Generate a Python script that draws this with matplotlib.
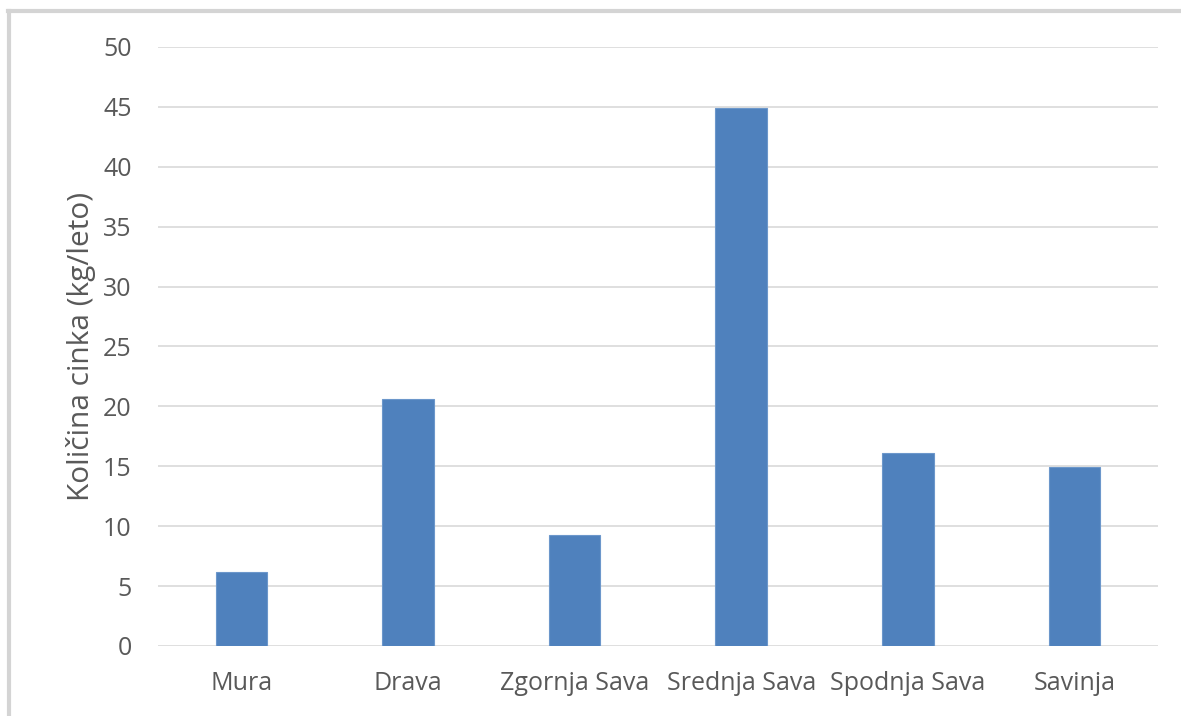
import matplotlib.pyplot as plt
from matplotlib.lines import Line2D

# Letne količine cinka po porečjih
rivers = ["Mura", "Drava", "Zgornja Sava", "Srednja Sava", "Spodnja Sava", "Savinja"]
zinc = [6.2, 20.6, 9.3, 44.9, 16.1, 14.9]
yticks = [0, 5, 10, 15, 20, 25, 30, 35, 40, 45, 50]

text_color = "#595959"
plt.rcParams['font.family'] = ['Open Sans', 'DejaVu Sans']

fig = plt.figure(figsize=(11.81, 7.16), dpi=100)
ax = fig.add_axes([0.1338, 0.0978, 0.8467, 0.8366])

x = range(len(rivers))
ax.bar(x, zinc, width=0.31, color="#4f81bd", edgecolor="#6c97cb", linewidth=0.8, zorder=3)

ax.set_xlim(-0.5, len(rivers) - 0.5)
ax.set_ylim(0, 50)
ax.set_yticks(yticks)
ax.set_xticks(list(x))
ax.set_xticklabels(rivers)
ax.grid(axis='y', color="#d9d9d9", linewidth=1.2, zorder=0)
ax.tick_params(axis='both', length=0, colors=text_color, labelsize=18)
ax.tick_params(axis='y', pad=19)
ax.tick_params(axis='x', pad=18)
for s in ax.spines.values():
    s.set_visible(False)

ax.set_ylabel("Količina cinka (kg/leto)", color=text_color, fontsize=21.5, labelpad=5)

# svetlo siv rob slike zgoraj in levo
fig.add_artist(Line2D([0.007, 1.0], [0.9853, 0.9853], color="#d4d4d4", linewidth=3,
                      transform=fig.transFigure))
fig.add_artist(Line2D([0.0072, 0.0072], [0.0, 0.9853], color="#d4d4d4", linewidth=3,
                      transform=fig.transFigure))

fig.savefig("out.png", dpi=100)
